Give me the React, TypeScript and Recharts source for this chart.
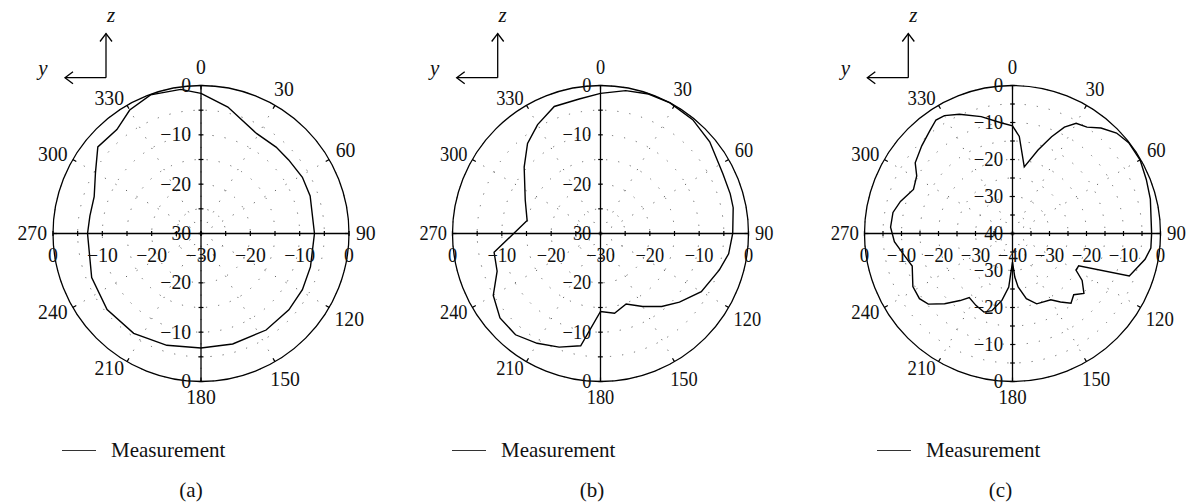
import React from "react";
import { RadarChart, Radar, PolarGrid, PolarAngleAxis, PolarRadiusAxis, Legend } from "recharts";

// measured pattern, (a)
const anglesA = [0, 12, 29, 41, 50, 61, 71, 90, 107, 119, 131, 146, 164, 180, 197, 214, 231, 248, 270, 279, 289, 300, 310, 321, 330, 340, 352];
const valuesA = [-1.6, -3.8, -6.8, -6.8, -6.8, -6.5, -6.6, -7.0, -6.8, -6.5, -6.4, -6.4, -6.7, -6.8, -6.3, -5.6, -5.5, -6.1, -7.0, -7.2, -7.1, -5.3, -2.7, -2.9, -1.1, -0.1, -0.5];

// measured pattern, (b)
const anglesB = [0, 10, 19, 28, 39, 50, 64, 73, 79, 90, 99, 107, 120, 131, 140, 150, 160, 170, 180, 190, 200, 210, 220, 230, 240, 250, 260, 280, 294, 311, 321, 330, 340, 351];
const valuesB = [-1.6, -0.6, -0.1, 0, -0.3, -1.1, -2.4, -2.5, -2.6, -3.2, -3.7, -4.8, -6.4, -8.8, -10.7, -12.9, -14.8, -13.6, -14.2, -6.9, -5.5, -4.3, -3.2, -3.4, -4.9, -7.7, -8.1, -14.9, -13.3, -9.5, -6.5, -4.5, -2.6, -2.4];

// measured pattern, (c)
const anglesC = [0, 4, 10, 17, 22, 26, 30, 35, 40, 46, 52, 60, 68, 76, 90, 96, 101, 110, 116, 120, 124, 130, 135, 140, 145, 150, 161, 168, 174, 177, 180, 183, 184, 189, 195, 200, 207, 214, 218, 224, 230, 235, 242, 252, 258, 266, 273, 280, 286, 294, 301, 306, 314, 321, 326, 330, 336, 345, 354];
const valuesC = [-10.9, -13.7, -21.7, -16.4, -11.8, -8.0, -5.6, -4.9, -2.8, -0.9, -0.15, -0.2, -1.0, -1.6, -2.4, -2.4, -3.5, -6.4, -20.1, -20.2, -17.3, -14.8, -16.6, -15.4, -17.4, -19.3, -19.9, -22.0, -25.5, -28.2, -32.3, -28.2, -25.5, -21.7, -18.4, -17.4, -18.2, -19.1, -17.0, -13.6, -10.3, -9.3, -9.5, -11.5, -10.3, -8.0, -7.0, -7.2, -8.5, -10.7, -9.8, -7.5, -5.9, -4.4, -3.0, -3.2, -4.7, -7.3, -9.9];

const angleTicks = [0, 30, 60, 90, 120, 150, 180, 210, 240, 270, 300, 330];
const seriesName = "Measurement";
const captions = ["(a)", "(b)", "(c)"];

const SERIF = "'Liberation Serif', 'DejaVu Serif', serif";
const CY = 233.5;
const R = 148;

const panels = [
  { key: "a", left: 0, cx: 201, sx: 1.014, min: -30, angles: anglesA, values: valuesA, legendX: 62, captionX: 191, cornerX: 106 },
  { key: "b", left: 400, cx: 200.5, sx: 1.088, min: -30, angles: anglesB, values: valuesB, legendX: 52, captionX: 192, cornerX: 97.7 },
  { key: "c", left: 800, cx: 212.5, sx: 1.064, min: -40, angles: anglesC, values: valuesC, legendX: 77, captionX: 200.5, cornerX: 108.3 },
];

const sides = [
  { id: "up", angle: 90, hideCenter: false },
  { id: "down", angle: 270, hideCenter: true },
  { id: "right", angle: 0, hideCenter: false },
  { id: "left", angle: 180, hideCenter: true },
];

const fmt = (v: number) => (v < 0 ? "\u2212" + Math.abs(v) : String(v));

function AngleTick(props: any) {
  const { x, y, payload, sx } = props;
  const v = Number(payload.value);
  if (v >= 360) return null;
  const rad = (-payload.coordinate * Math.PI) / 180;
  const ux = Math.cos(rad);
  const uy = Math.sin(rad);
  // x,y sit tickSize (8) outside the rim
  const px = x - 8 * ux;
  const py = y - 8 * uy;
  const label = String(v);
  const half = label.length * 5;
  let offX: number;
  let offY: number;
  if (Math.abs(ux) < 0.01) {
    // top and bottom
    offX = 0;
    offY = uy < 0 ? -18 : 15.5;
  } else if (ux < 0) {
    // left side: text kept close to the rim, nearly horizontal
    offX = 6 * ux - half;
    offY = 6 * uy + (Math.abs(uy) > 0.01 ? Math.sign(uy) * 2 : 0);
  } else {
    const d = 7 + ux * half + Math.abs(uy) * 7;
    offX = d * ux;
    offY = d * uy;
  }
  const lx = px + offX / sx;
  const ly = py + offY;
  return (
    <g>
      <line x1={px} y1={py} x2={px - 4 * ux} y2={py - 4 * uy} stroke="#000" strokeWidth={1.2} />
      <g transform={`translate(${lx},${ly}) scale(${1 / sx},1)`}>
        <text textAnchor="middle" dy="0.33em" fontFamily={SERIF} fontSize={20} fill="#111">
          {label}
        </text>
      </g>
    </g>
  );
}

function RadiusTick(props: any) {
  const { x, y, payload, side, sx, hideValue } = props;
  const v = Number(payload.value);
  const vertical = side === "up" || side === "down";
  const show = v % 10 === 0 && v !== hideValue;
  return (
    <g>
      {vertical ? (
        <line x1={x - 2.5 / sx} x2={x + 2.5 / sx} y1={y} y2={y} stroke="#000" strokeWidth={1.2} />
      ) : (
        <line x1={x} x2={x} y1={y - 2.5} y2={y + 2.5} stroke="#000" strokeWidth={1.2} />
      )}
      {show &&
        (vertical ? (
          <g transform={`translate(${x - 10 / sx},${y}) scale(${1 / sx},1)`}>
            <text textAnchor="end" dy="0.33em" fontFamily={SERIF} fontSize={20} fill="#111">
              {fmt(v)}
            </text>
          </g>
        ) : (
          <g transform={`translate(${x},${y + 22}) scale(${1 / sx},1)`}>
            <text textAnchor="middle" dy="0.33em" fontFamily={SERIF} fontSize={20} fill="#111">
              {fmt(v)}
            </text>
          </g>
        ))}
    </g>
  );
}

const renderLegend = (props: any) => {
  const payload = (props.payload || []).filter((p: any) => p.value === seriesName);
  return (
    <div style={{ display: "flex", alignItems: "center", fontFamily: SERIF, fontSize: 21, color: "#111", lineHeight: "24px" }}>
      {payload.map((p: any) => (
        <React.Fragment key={p.value}>
          <span style={{ display: "inline-block", width: 34, height: 0, borderTop: "1.5px solid #333", marginRight: 15 }} />
          <span>{p.value}</span>
        </React.Fragment>
      ))}
    </div>
  );
};

function Panel(p: any) {
  const data = p.angles.map((a: number, i: number) => ({ angle: a, value: p.values[i] }));
  const count = -p.min / 5 + 1;
  return (
    <div className={`panel-${p.key}`} style={{ position: "absolute", left: p.left, top: 0, width: 400, height: 502 }}>
      <RadarChart width={400} height={502} data={data} cx={p.cx} cy={CY} outerRadius={R} innerRadius={0} startAngle={90} endAngle={-270} margin={{ top: 0, right: 0, bottom: 0, left: 0 }}>
        <PolarGrid gridType="circle" radiusAxisId="up" stroke="#666" strokeDasharray="1.2 11" strokeWidth={1} />
        <PolarAngleAxis
          dataKey="angle"
          type="number"
          domain={[0, 360]}
          ticks={angleTicks as any}
          tickCount={13}
          axisLineType="circle"
          axisLine={{ stroke: "#000", strokeWidth: 1.3 }}
          stroke="#000"
          tickLine={false}
          tickSize={8}
          tick={(t: any) => <AngleTick {...t} sx={p.sx} />}
        />
        {sides.map((s) => (
          <PolarRadiusAxis
            key={s.id}
            radiusAxisId={s.id}
            angle={s.angle}
            type="number"
            domain={[p.min, 0]}
            tickCount={count}
            stroke="#000"
            axisLine={{ stroke: "#000", strokeWidth: 1.3 }}
            tick={(t: any) => <RadiusTick {...t} side={s.id} sx={p.sx} hideValue={s.hideCenter ? p.min : NaN} />}
          />
        ))}
        {sides
          .filter((s) => s.id !== "up")
          .map((s) => (
            <Radar
              key={`h-${s.id}`}
              name={`axis-${s.id}`}
              dataKey="value"
              radiusAxisId={s.id}
              stroke="none"
              fill="none"
              legendType="none"
              dot={false}
              isAnimationActive={false}
            />
          ))}
        <Radar
          name={seriesName}
          dataKey="value"
          radiusAxisId="up"
          stroke="#000"
          strokeWidth={1.4}
          fill="none"
          fillOpacity={0}
          dot={false}
          isAnimationActive={false}
        />
        <Legend content={renderLegend} wrapperStyle={{ left: p.legendX, top: 438, width: 260 }} />
      </RadarChart>
    </div>
  );
}

const css = panels
  .map((p) => `.panel-${p.key} svg.recharts-surface { transform: scaleX(${p.sx}); transform-origin: ${p.cx}px ${CY}px; overflow: visible; }`)
  .join("\n");

export default function App() {
  return (
    <div style={{ position: "absolute", left: 0, top: 0, width: 1201, height: 502, background: "#fff", overflow: "hidden" }}>
      <style>{css}</style>
      {panels.map((p) => (
        <Panel key={p.key} {...p} />
      ))}
      <svg width={1201} height={502} style={{ position: "absolute", left: 0, top: 0, pointerEvents: "none" }}>
        {panels.map((p, i) => {
          const cx = p.left + p.cornerX;
          const cy = 77.7;
          return (
            <g key={p.key} stroke="#000" strokeWidth={1.3} fill="none">
              <line x1={cx} y1={cy} x2={cx} y2={33.5} />
              <polyline points={`${cx - 6},${41.5} ${cx},${33.5} ${cx + 6},${41.5}`} />
              <line x1={cx} y1={cy} x2={cx - 41} y2={cy} />
              <polyline points={`${cx - 33},${cy - 6} ${cx - 41},${cy} ${cx - 33},${cy + 6}`} />
              <text x={cx + 5} y={21.5} textAnchor="middle" fontFamily={SERIF} fontStyle="italic" fontSize={21} fill="#111" stroke="none">
                z
              </text>
              <text x={cx - 63} y={75} textAnchor="middle" fontFamily={SERIF} fontStyle="italic" fontSize={21} fill="#111" stroke="none">
                y
              </text>
              <text x={p.left + p.captionX} y={497} textAnchor="middle" fontFamily={SERIF} fontSize={21} fill="#111" stroke="none">
                {captions[i]}
              </text>
            </g>
          );
        })}
      </svg>
    </div>
  );
}
